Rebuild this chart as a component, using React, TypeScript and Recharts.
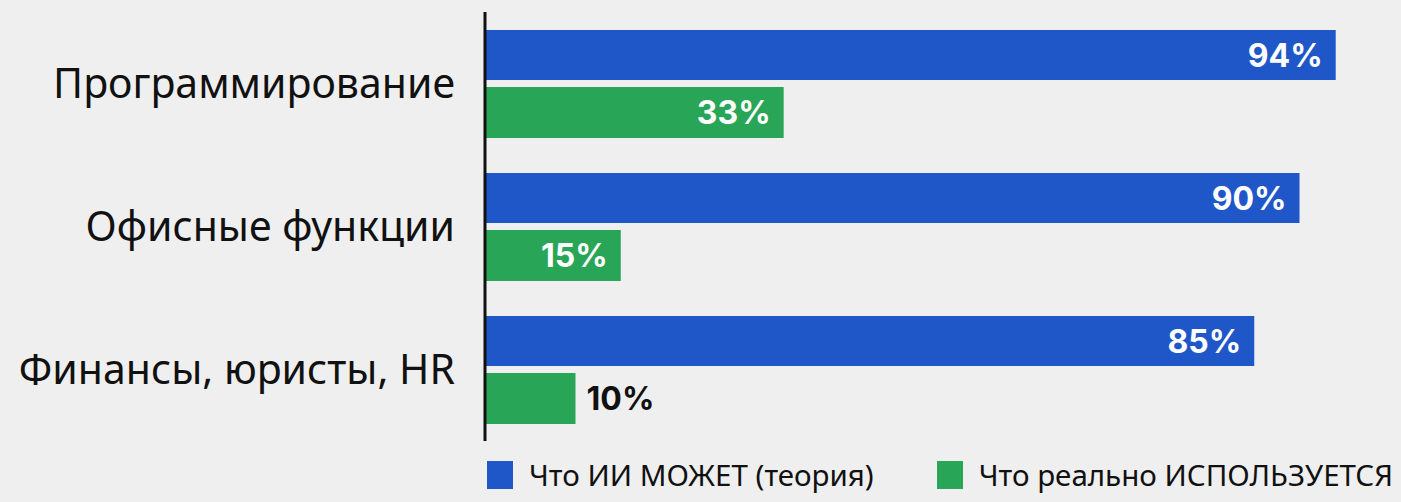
import { BarChart, Bar, XAxis, YAxis, Legend, LabelList } from 'recharts';

const categories = ['Программирование', 'Офисные функции', 'Финансы, юристы, HR'];
const theoryValues = [94, 90, 85];
const usedValues = [33, 15, 10];
const seriesNames = ['Что ИИ МОЖЕТ (теория)', 'Что реально ИСПОЛЬЗУЕТСЯ'];

const BLUE = '#1f57c9';
const GREEN = '#28a556';

const data = categories.map((name, i) => ({ name, theory: theoryValues[i], used: usedValues[i] }));

function PctLabel(props: any) {
  const { x, y, width, height, value } = props;
  const inside = value >= 15;
  const tx = inside ? x + width - 13 : x + width + 11;
  return (
    <text
      x={tx}
      y={y + height / 2}
      textAnchor={inside ? 'end' : 'start'}
      dominantBaseline="central"
      fill={inside ? '#ffffff' : '#111111'}
      fontFamily="Inter, 'Open Sans', sans-serif"
      fontWeight={700}
      fontSize={32}
    >
      {value}%
    </text>
  );
}

function LegendBox() {
  const colors = [BLUE, GREEN];
  return (
    <div style={{ display: 'flex', alignItems: 'center', fontFamily: "'Noto Sans', sans-serif", fontSize: 29.5, color: '#111', lineHeight: '34px' }}>
      {seriesNames.map((n, i) => (
        <div key={n} style={{ display: 'flex', alignItems: 'center', marginRight: i === 0 ? 63 : 0 }}>
          <span style={{ display: 'inline-block', width: 26, height: 28, background: colors[i], marginRight: 16 }} />
          <span>{n}</span>
        </div>
      ))}
    </div>
  );
}

export default function App() {
  return (
    <div style={{ position: 'absolute', left: 0, top: 0, width: 1401, height: 502, background: '#efefef' }}>
      <BarChart
        width={1401}
        height={502}
        data={data}
        layout="vertical"
        margin={{ top: 12, right: 11, bottom: 27, left: 0 }}
        barCategoryGap={18}
        barGap={7}
      >
        <XAxis type="number" domain={[0, 100]} hide />
        <YAxis
          type="category"
          dataKey="name"
          width={485}
          axisLine={{ stroke: '#111', strokeWidth: 3 }}
          tickLine={false}
          tickMargin={24}
          tick={{ fill: '#111', fontSize: 41, fontFamily: "'Noto Sans', sans-serif" }}
        />
        <Legend
          content={() => <LegendBox />}
          wrapperStyle={{ position: 'absolute', left: 487, top: 458, width: 914 }}
        />
        <Bar dataKey="theory" name={seriesNames[0]} fill={BLUE} barSize={50} isAnimationActive={false}>
          <LabelList dataKey="theory" content={PctLabel} />
        </Bar>
        <Bar dataKey="used" name={seriesNames[1]} fill={GREEN} barSize={51} isAnimationActive={false}>
          <LabelList dataKey="used" content={PctLabel} />
        </Bar>
      </BarChart>
    </div>
  );
}
